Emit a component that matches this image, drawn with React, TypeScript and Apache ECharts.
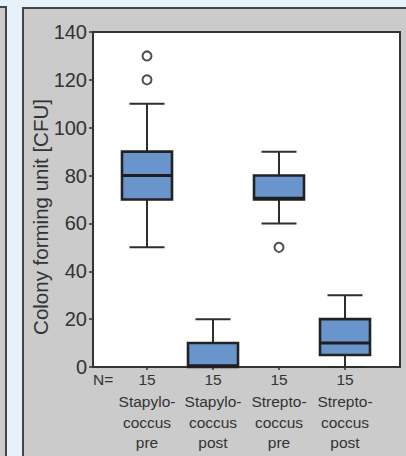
import React, { useEffect, useRef } from "react";
import * as echarts from "echarts";

const categoryLines: string[][] = [
  ["Stapylo-", "coccus", "pre"],
  ["Stapylo-", "coccus", "post"],
  ["Strepto-", "coccus", "pre"],
  ["Strepto-", "coccus", "post"],
];
const nCounts = [15, 15, 15, 15];
const whiskerLow = [50, 0, 60, 0];
const q1 = [70, 0, 70, 5];
const median = [80, 0.5, 70.5, 10];
const q3 = [90, 10, 80, 20];
const whiskerHigh = [110, 20, 90, 30];
const outliers: [number, number][] = [
  [0, 130],
  [0, 120],
  [2, 50],
];
const yTicks = [0, 20, 40, 60, 80, 100, 120, 140];
const yName = "Colony forming unit [CFU]";

const FONT = "'Liberation Sans', Arial, Helvetica, sans-serif";

export default function App() {
  const ref = useRef<HTMLDivElement>(null);
  useEffect(() => {
    if (!ref.current) return;
    const chart = echarts.init(ref.current, null, { renderer: "svg" });
    const boxData = categoryLines.map((_, i) => [
      i,
      whiskerLow[i],
      q1[i],
      median[i],
      q3[i],
      whiskerHigh[i],
    ]);
    const option: any = {
      animation: false,
      backgroundColor: "#e6f1fa",
      graphic: [
        {
          type: "rect",
          z: -10,
          shape: { x: -5, y: 7, width: 11, height: 470 },
          style: { fill: "#cbcbcb", stroke: "#454545", lineWidth: 2 },
        },
        {
          type: "rect",
          z: -10,
          shape: { x: 23, y: 8, width: 420, height: 470 },
          style: { fill: "#cbcbcb", stroke: "#454545", lineWidth: 2 },
        },
        {
          type: "text",
          x: 93,
          y: 379,
          style: {
            text: "N=",
            font: `15.5px ${FONT}`,
            fill: "#333",
            textAlign: "left",
            textVerticalAlign: "middle",
          },
        },
        {
          type: "text",
          x: 40,
          y: 217,
          rotation: Math.PI / 2,
          style: {
            text: yName,
            font: `20.5px ${FONT}`,
            fill: "#333",
            textAlign: "center",
            textVerticalAlign: "middle",
          },
        },
      ],
      grid: [
        {
          left: 93,
          top: 32,
          right: 6,
          bottom: 89,
          show: true,
          backgroundColor: "#ffffff",
          borderColor: "#333",
          borderWidth: 2,
        },
        { left: 114, top: 32, width: 264, bottom: 89, show: false },
      ],
      xAxis: [
        { type: "value", gridIndex: 0, min: 0, max: 1, show: false },
        {
          type: "category",
          gridIndex: 1,
          data: categoryLines.map((l) => l.join("\n")),
          boundaryGap: true,
          axisLine: { show: false },
          axisTick: {
            show: true,
            alignWithLabel: true,
            length: 3,
            lineStyle: { color: "#333", width: 1.5 },
          },
          axisLabel: {
            margin: 0,
            interval: 0,
            formatter: (_v: string, idx: number) =>
              `{n|${nCounts[idx]}}\n` +
              categoryLines[idx].map((s) => `{c|${s}}`).join("\n"),
            rich: {
              n: { fontSize: 15.5, fontFamily: FONT, color: "#333", lineHeight: 24 },
              c: { fontSize: 15.5, fontFamily: FONT, color: "#333", lineHeight: 20.7 },
            },
          },
        },
      ],
      yAxis: [
        {
          type: "value",
          gridIndex: 0,
          min: 0,
          max: 140,
          interval: 20,
          axisLine: { show: true, lineStyle: { color: "#333", width: 2 } },
          axisTick: { show: true, length: 4, lineStyle: { color: "#333", width: 1.5 } },
          splitLine: { show: false },
          axisLabel: {
            margin: 6,
            fontSize: 20,
            fontFamily: FONT,
            color: "#333",
            formatter: (v: number) => (yTicks.includes(v) ? String(v) : ""),
          },
        },
        { type: "value", gridIndex: 1, min: 0, max: 140, show: false },
      ],
      series: [
        {
          type: "custom",
          xAxisIndex: 1,
          yAxisIndex: 1,
          data: boxData,
          clip: false,
          z: 5,
          renderItem: (params: any, api: any) => {
            const idx = api.value(0);
            const lo = api.coord([idx, api.value(1)]);
            const b1 = api.coord([idx, api.value(2)]);
            const md = api.coord([idx, api.value(3)]);
            const b3 = api.coord([idx, api.value(4)]);
            const hi = api.coord([idx, api.value(5)]);
            const cx = lo[0];
            const bw = 50;
            const cw = 35;
            const wStyle = { stroke: "#2e2e2e", lineWidth: 2 };
            return {
              type: "group",
              children: [
                {
                  type: "line",
                  shape: { x1: cx, y1: b3[1], x2: cx, y2: hi[1] },
                  style: wStyle,
                },
                {
                  type: "line",
                  shape: { x1: cx, y1: b1[1], x2: cx, y2: lo[1] },
                  style: wStyle,
                },
                {
                  type: "line",
                  shape: { x1: cx - cw / 2, y1: hi[1], x2: cx + cw / 2, y2: hi[1] },
                  style: wStyle,
                },
                {
                  type: "line",
                  shape: { x1: cx - cw / 2, y1: lo[1], x2: cx + cw / 2, y2: lo[1] },
                  style: wStyle,
                },
                {
                  type: "rect",
                  shape: { x: cx - bw / 2, y: b3[1], width: bw, height: b1[1] - b3[1] },
                  style: { fill: "#6a95cc", stroke: "#232323", lineWidth: 2.6 },
                },
                {
                  type: "line",
                  shape: { x1: cx - bw / 2, y1: md[1], x2: cx + bw / 2, y2: md[1] },
                  style: { stroke: "#1e1e1e", lineWidth: 3 },
                },
              ],
            };
          },
        },
        {
          type: "scatter",
          xAxisIndex: 1,
          yAxisIndex: 1,
          data: outliers,
          symbol: "circle",
          symbolSize: 9,
          z: 6,
          itemStyle: { color: "#ffffff", borderColor: "#222", borderWidth: 2 },
        },
      ],
    };
    chart.setOption(option);
    return () => chart.dispose();
  }, []);
  return (
    <div
      ref={ref}
      style={{ position: "absolute", left: 0, top: 0, width: 406, height: 456 }}
    />
  );
}
